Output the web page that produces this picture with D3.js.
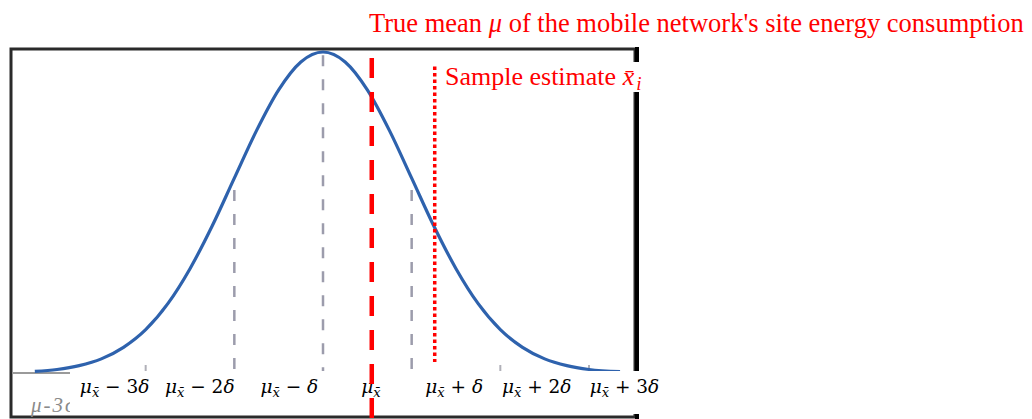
<!DOCTYPE html>
<html lang="en">
<head>
  <meta charset="UTF-8" />
  <title>Sampling distribution of the mean</title>
  <script src="https://d3js.org/d3.v7.min.js"></script>
  <style>
    body { margin: 0; background: #fff; }
  </style>
</head>
<body>
  <svg id="chart" width="1032" height="419"></svg>

  <script>
    // curve, x in sigma units, height relative to the peak
    const sigmaPts = [-3.25, -3, -2.75, -2.5, -2.25, -2, -1.75, -1.5, -1.25, -1, -0.75, -0.5, -0.25, 0,
                      0.25, 0.5, 0.75, 1, 1.25, 1.5, 1.75, 2, 2.25, 2.5, 2.75, 3, 3.35];
    const density = [0.005, 0.011, 0.023, 0.044, 0.080, 0.135, 0.216, 0.325, 0.458, 0.607, 0.755, 0.882, 0.969, 1,
                     0.969, 0.882, 0.755, 0.607, 0.458, 0.325, 0.216, 0.135, 0.080, 0.044, 0.023, 0.011, 0.004];

    const guidePos = [-1, 0, 1];
    const guideTop = [0.57, 0.99, 0.57];
    const tickPos = [-2, 2, 3];

    const labelPos = [-2.35, -1.39, -0.38, 0.54, 1.48, 2.41, 3.40];
    const labelOp = ["− 3", "− 2", "− ", "", "+ ", "+ 2", "+ 3"];

    const trueMean = 0.55;
    const sampleMean = 1.26;
    const sampleTop = 0.955;

    const svg = d3.select("#chart");
    const x = d3.scaleLinear().domain([-3, 3]).range([57, 589]);
    const y = d3.scaleLinear().domain([0, 1]).range([373, 52]);

    // frame of the pasted figure
    svg.append("rect")
      .attr("x", 11).attr("y", 49).attr("width", 624).attr("height", 368)
      .attr("fill", "#fff").attr("stroke", "#2a2a2a").attr("stroke-width", 3);
    svg.append("line")
      .attr("x1", 637).attr("x2", 637).attr("y1", 47).attr("y2", 419)
      .attr("stroke", "#000").attr("stroke-width", 4);

    // baseline and ticks
    svg.append("line")
      .attr("x1", 12).attr("x2", 634).attr("y1", y(0)).attr("y2", y(0))
      .attr("stroke", "#9a9a9a").attr("stroke-width", 2);
    svg.selectAll(".tick").data(tickPos).join("line")
      .attr("x1", d => x(d)).attr("x2", d => x(d))
      .attr("y1", y(0) - 8).attr("y2", y(0))
      .attr("stroke", "#b0b0b8").attr("stroke-width", 2);

    // grey dashed guides at mean and +-1 sigma
    svg.selectAll(".guide").data(guidePos).join("line")
      .attr("x1", d => x(d)).attr("x2", d => x(d))
      .attr("y1", (d, i) => y(guideTop[i])).attr("y2", y(0))
      .attr("stroke", "#9c9cac").attr("stroke-width", 2.5)
      .attr("stroke-dasharray", "11 13");

    const line = d3.line()
      .x((d, i) => x(sigmaPts[i]))
      .y(d => y(d))
      .curve(d3.curveMonotoneX);

    svg.append("path")
      .attr("d", line(density))
      .attr("fill", "none")
      .attr("stroke", "#2e62ad")
      .attr("stroke-width", 3.2);

    // sample estimate, dotted
    svg.append("line")
      .attr("x1", x(sampleMean)).attr("x2", x(sampleMean))
      .attr("y1", y(sampleTop)).attr("y2", 362)
      .attr("stroke", "red").attr("stroke-width", 3.5)
      .attr("stroke-dasharray", "3.5 3");

    // remains of the old axis label
    svg.append("text")
      .attr("x", 31).attr("y", 412)
      .attr("font-family", "Liberation Serif").attr("font-style", "italic")
      .attr("font-size", 21).attr("letter-spacing", 2).attr("fill", "#8a8a8a")
      .text("μ-3σ");

    // white box behind the new labels
    svg.append("rect")
      .attr("x", 70).attr("y", 371).attr("width", 592).attr("height", 43)
      .attr("fill", "#fff");

    const labels = svg.selectAll(".lab").data(labelPos).join("text")
      .attr("x", d => x(d)).attr("y", 393)
      .attr("text-anchor", "middle")
      .attr("font-family", "DejaVu Serif")
      .attr("font-size", 18.5)
      .attr("fill", "#000");
    labels.append("tspan").attr("font-style", "italic").text("μ");
    labels.append("tspan").attr("font-style", "italic").attr("font-size", 13)
      .attr("dy", 4).text("x̄");
    labels.append("tspan").attr("dy", -4).text((d, i) => labelOp[i] ? " " + labelOp[i] : "");
    labels.append("tspan").attr("font-style", "italic").text((d, i) => labelOp[i] ? "δ" : "");

    // true mean, dashed
    svg.append("line")
      .attr("x1", x(trueMean)).attr("x2", x(trueMean))
      .attr("y1", 58).attr("y2", 419)
      .attr("stroke", "red").attr("stroke-width", 4.5)
      .attr("stroke-dasharray", "20 14");

    const title = svg.append("text")
      .attr("x", 369).attr("y", 32)
      .attr("font-family", "Liberation Serif")
      .attr("font-size", 26.5)
      .attr("fill", "red");
    title.append("tspan").text("True mean ");
    title.append("tspan").attr("font-style", "italic").text("μ");
    title.append("tspan").text(" of the mobile network's site energy consumption");

    // sample estimate label sits in a white text box over the frame
    svg.append("rect")
      .attr("x", 442).attr("y", 62).attr("width", 208).attr("height", 30)
      .attr("fill", "#fff");
    const sample = svg.append("text")
      .attr("x", 445).attr("y", 85)
      .attr("font-family", "Liberation Serif")
      .attr("font-size", 26)
      .attr("fill", "red");
    sample.append("tspan").text("Sample estimate ");
    sample.append("tspan").attr("font-style", "italic").text("x̄");
    sample.append("tspan").attr("font-style", "italic").attr("font-size", 19)
      .attr("dy", 5).attr("dx", 2).text("i");
  </script>
</body>
</html>
